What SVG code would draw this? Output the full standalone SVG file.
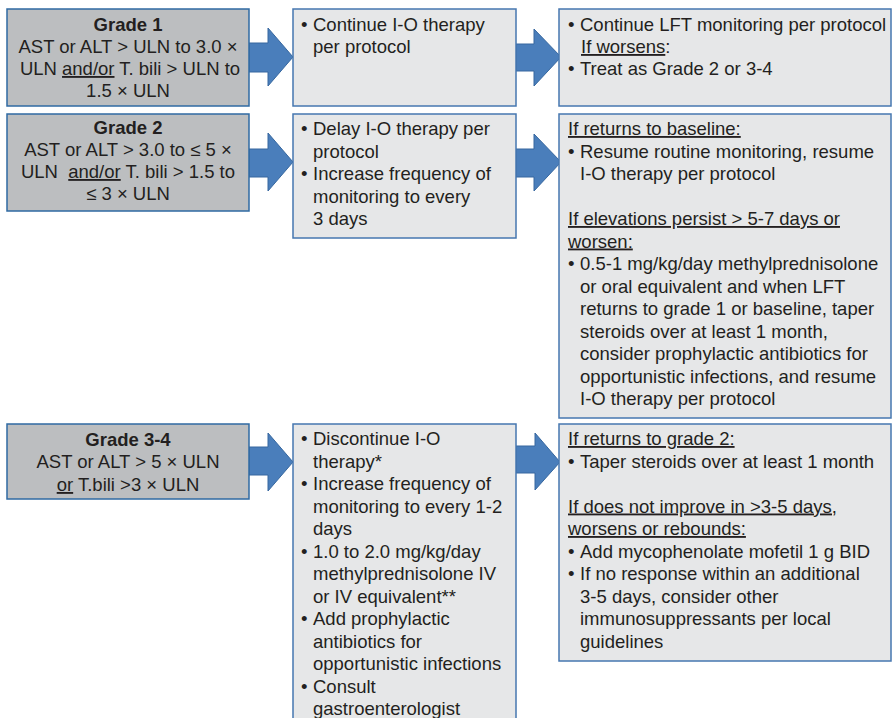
<svg xmlns="http://www.w3.org/2000/svg" width="894" height="718" viewBox="0 0 894 718">
<style>
text{font-family:"Liberation Sans",Arial,sans-serif;font-size:18.5px;fill:#231f20}
.c{text-anchor:middle}
.b{font-weight:bold}
.u{text-decoration:underline}
.g{fill:#bcbec0;stroke:#2f6aa3;stroke-width:1.5}
.l{fill:#e6e7e8;stroke:#4677b0;stroke-width:1.5}
.a{fill:#4a7ebb;stroke:#36679f;stroke-width:1}
</style>
<rect width="894" height="718" fill="#ffffff"/>
<g id="connectors">
<polygon class="a" points="249,43 268,43 268,28 293,57 268,86 268,72 249,72"/>
<polygon class="a" points="516,44 534,44 534,29 561,57 534,86 534,71 516,71"/>
<polygon class="a" points="249,149 268,149 268,133 293,162 268,191 268,177 249,177"/>
<polygon class="a" points="516,149 534,149 534,134 561,162 534,191 534,177 516,177"/>
<polygon class="a" points="249,447 268,447 268,433 293,462 268,491 268,475 249,475"/>
<polygon class="a" points="516,446 535,446 535,433 560,462 535,490 535,473 516,473"/>
</g>
<g id="grade1">
<rect class="g" x="7" y="9" width="242" height="97"/>
<text class="c b" x="128" y="31">Grade 1</text>
<text class="c" x="128" y="53">AST or ALT &gt; ULN to 3.0 ×</text>
<text class="c" x="130" y="75">ULN <tspan class="u">and/or</tspan> T. bili &gt; ULN to</text>
<text class="c" x="128" y="97">1.5 × ULN</text>
</g>
<g id="grade2">
<rect class="g" x="7" y="114" width="242" height="97"/>
<text class="c b" x="128" y="134">Grade 2</text>
<text class="c" x="128" y="156">AST or ALT &gt; 3.0 to ≤ 5 ×</text>
<text class="c" x="128" y="178" xml:space="preserve">ULN  <tspan class="u">and/or</tspan> T. bili &gt; 1.5 to</text>
<text class="c" x="128" y="200">≤ 3 × ULN</text>
</g>
<g id="grade34">
<rect class="g" x="7" y="424" width="242" height="75"/>
<text class="c b" x="128" y="446">Grade 3-4</text>
<text class="c" x="128" y="468">AST or ALT &gt; 5 × ULN</text>
<text class="c" x="128" y="491"><tspan class="u">or</tspan> T.bili &gt;3 × ULN</text>
</g>
<g id="action1">
<rect class="l" x="293" y="9" width="223" height="97"/>
<text x="301" y="31">•</text><text x="313" y="31">Continue I-O therapy</text>
<text x="313" y="53">per protocol</text>
</g>
<g id="action2">
<rect class="l" x="293" y="114" width="223" height="124"/>
<text x="301" y="135">•</text><text x="313" y="135">Delay I-O therapy per</text>
<text x="313" y="157.5">protocol</text>
<text x="301" y="180">•</text><text x="313" y="180">Increase frequency of</text>
<text x="313" y="202.5">monitoring to every</text>
<text x="313" y="225">3 days</text>
</g>
<g id="action34">
<rect class="l" x="293" y="424" width="223" height="300"/>
<text x="301" y="445">•</text><text x="313" y="445">Discontinue I-O</text>
<text x="313" y="467.5">therapy*</text>
<text x="301" y="490">•</text><text x="313" y="490">Increase frequency of</text>
<text x="313" y="512.5">monitoring to every 1-2</text>
<text x="313" y="535">days</text>
<text x="301" y="557.5">•</text><text x="313" y="557.5">1.0 to 2.0 mg/kg/day</text>
<text x="313" y="580">methylprednisolone IV</text>
<text x="313" y="602.5">or IV equivalent**</text>
<text x="301" y="625">•</text><text x="313" y="625">Add prophylactic</text>
<text x="313" y="647.5">antibiotics for</text>
<text x="313" y="670">opportunistic infections</text>
<text x="301" y="692.5">•</text><text x="313" y="692.5">Consult</text>
<text x="313" y="715">gastroenterologist</text>
</g>
<g id="followup1">
<rect class="l" x="559" y="9" width="332" height="97"/>
<text x="568" y="31">•</text><text x="580" y="31">Continue LFT monitoring per protocol</text>
<text x="581" y="53"><tspan class="u">If worsens</tspan>:</text>
<text x="568" y="75">•</text><text x="580" y="75">Treat as Grade 2 or 3-4</text>
</g>
<g id="followup2">
<rect class="l" x="559" y="114" width="332" height="304"/>
<text class="u" x="568" y="135">If returns to baseline:</text>
<text x="568" y="157.5">•</text><text x="580" y="157.5">Resume routine monitoring, resume</text>
<text x="580" y="180">I-O therapy per protocol</text>
<text class="u" x="568" y="225">If elevations persist &gt; 5-7 days or</text>
<text class="u" x="568" y="247.5">worsen:</text>
<text x="568" y="270">•</text><text x="580" y="270">0.5-1 mg/kg/day methylprednisolone</text>
<text x="580" y="292.5">or oral equivalent and when LFT</text>
<text x="580" y="315">returns to grade 1 or baseline, taper</text>
<text x="580" y="337.5">steroids over at least 1 month,</text>
<text x="580" y="360">consider prophylactic antibiotics for</text>
<text x="580" y="382.5">opportunistic infections, and resume</text>
<text x="580" y="405">I-O therapy per protocol</text>
</g>
<g id="followup34">
<rect class="l" x="559" y="424" width="332" height="237"/>
<text class="u" x="568" y="445">If returns to grade 2:</text>
<text x="568" y="467.5">•</text><text x="580" y="467.5">Taper steroids over at least 1 month</text>
<text class="u" x="568" y="512.5">If does not improve in &gt;3-5 days,</text>
<text class="u" x="568" y="535">worsens or rebounds:</text>
<text x="568" y="557.5">•</text><text x="580" y="557.5">Add mycophenolate mofetil 1 g BID</text>
<text x="568" y="580">•</text><text x="580" y="580">If no response within an additional</text>
<text x="580" y="602.5">3-5 days, consider other</text>
<text x="580" y="625">immunosuppressants per local</text>
<text x="580" y="647.5">guidelines</text>
</g>
</svg>
